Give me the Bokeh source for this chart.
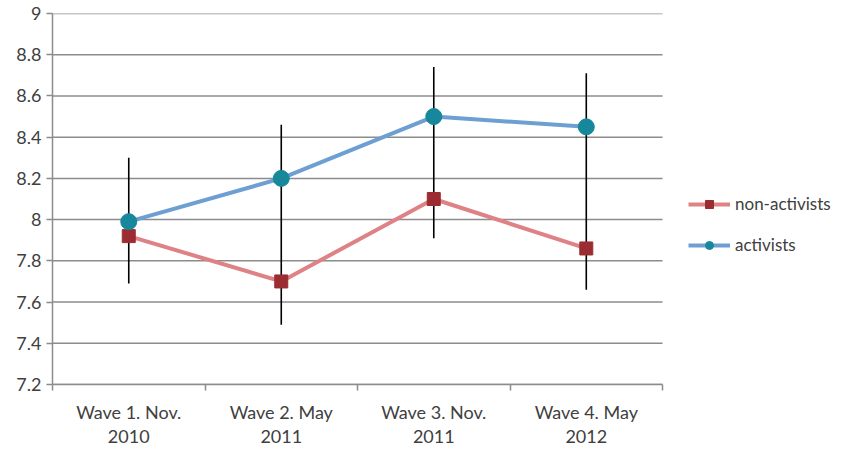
from bokeh.plotting import figure
from bokeh.models import (FixedTicker, CustomJSTickFormatter, Legend, LegendItem,
                          ColumnDataSource)
from bokeh.embed import file_html
from bokeh.resources import INLINE

waves = ["Wave 1. Nov.\n2010", "Wave 2. May\n2011", "Wave 3. Nov.\n2011", "Wave 4. May\n2012"]
x_pos = [0.5, 1.5, 2.5, 3.5]
non_activists = [7.92, 7.70, 8.10, 7.86]
activists = [7.99, 8.20, 8.50, 8.45]
err_low = [7.69, 7.49, 7.91, 7.66]
err_high = [8.30, 8.46, 8.74, 8.71]
y_ticks = [7.2, 7.4, 7.6, 7.8, 8.0, 8.2, 8.4, 8.6, 8.8, 9.0]
cat_edges = [0, 1, 2, 3, 4]

FONT = "Lato"
TXT = "#404040"
GRID = "#8c8c8c"

# plot area is 0..4 in x; extra room on the right holds the legend
p = figure(width=850, height=449, x_range=(0, 5.18), y_range=(7.2, 9.0),
           output_backend="svg", toolbar_location=None,
           min_border_left=52, min_border_top=13, min_border_bottom=65, min_border_right=8)
p.outline_line_color = None
p.background_fill_color = "white"
p.xgrid.grid_line_color = None
p.ygrid.grid_line_color = None

# horizontal gridlines limited to the category area
gsrc = ColumnDataSource(dict(y=y_ticks, x0=[cat_edges[0]] * len(y_ticks),
                             x1=[cat_edges[-1]] * len(y_ticks)))
p.segment(x0="x0", y0="y", x1="x1", y1="y", source=gsrc, line_color=GRID, line_width=1.5)

# y axis
p.yaxis.ticker = FixedTicker(ticks=y_ticks)
p.yaxis.formatter = CustomJSTickFormatter(code="return String(Math.round(tick*10)/10);")
p.yaxis.axis_line_color = GRID
p.yaxis.axis_line_width = 1.5
p.yaxis.major_tick_line_color = GRID
p.yaxis.major_tick_line_width = 1.5
p.yaxis.major_tick_in = 0
p.yaxis.major_tick_out = 6
p.yaxis.minor_tick_line_color = None
p.yaxis.major_label_text_font = FONT
p.yaxis.major_label_text_font_size = "18px"
p.yaxis.major_label_text_color = TXT
p.yaxis.major_label_standoff = 5

# x axis
p.xaxis.bounds = (cat_edges[0], cat_edges[-1])
p.xaxis.ticker = FixedTicker(ticks=x_pos, minor_ticks=cat_edges)
p.xaxis.major_label_overrides = {x: w for x, w in zip(x_pos, waves)}
p.xaxis.axis_line_color = GRID
p.xaxis.axis_line_width = 1.5
p.xaxis.major_tick_line_color = None
p.xaxis.minor_tick_line_color = GRID
p.xaxis.minor_tick_line_width = 1.5
p.xaxis.minor_tick_in = 0
p.xaxis.minor_tick_out = 6
p.xaxis.major_label_text_font = FONT
p.xaxis.major_label_text_font_size = "18px"
p.xaxis.major_label_text_color = TXT
p.xaxis.major_label_standoff = 10
p.xaxis.major_label_text_line_height = 1.1

src = ColumnDataSource(dict(x=x_pos, non=non_activists, act=activists, lo=err_low, hi=err_high))

# lines
l_non = p.line("x", "non", source=src, line_color="#de8286", line_width=4)
l_act = p.line("x", "act", source=src, line_color="#6d9fd3", line_width=4)

# error bars
p.segment(x0="x", y0="lo", x1="x", y1="hi", source=src, line_color="black", line_width=1.6)

m_non = p.scatter("x", "non", source=src, marker="square", size=13,
                  fill_color="#9b2c31", line_color="#9b2c31")
m_act = p.scatter("x", "act", source=src, marker="circle", size=16,
                  fill_color="#17879c", line_color="#17879c")

legend = Legend(items=[LegendItem(label="non-activists", renderers=[l_non, m_non]),
                       LegendItem(label="activists", renderers=[l_act, m_act])],
                location=(636, 129), orientation="vertical")
legend.border_line_color = None
legend.background_fill_alpha = 0
legend.label_text_font = FONT
legend.label_text_font_size = "17px"
legend.label_text_color = TXT
legend.glyph_width = 42
legend.glyph_height = 20
legend.label_height = 20
legend.spacing = 20
legend.label_standoff = 5
legend.padding = 0
legend.margin = 0
p.add_layout(legend)

open("out.html", "w").write(file_html(p, INLINE))
